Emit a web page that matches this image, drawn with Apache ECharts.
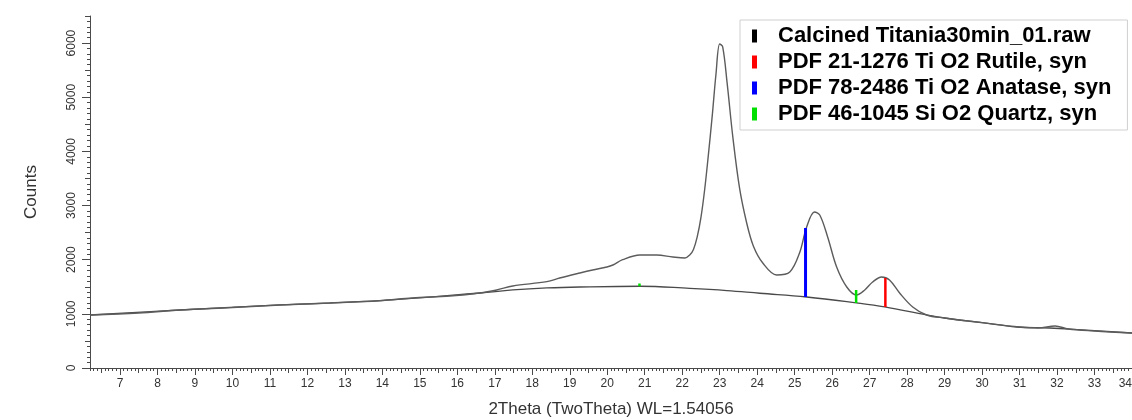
<!DOCTYPE html>
<html>
<head>
<meta charset="utf-8">
<script src="https://cdn.jsdelivr.net/npm/echarts@6/dist/echarts.min.js"></script>
<style>
html,body{margin:0;padding:0;background:#fff;}
#chart{width:1132px;height:420px;}
</style>
</head>
<body>
<div id="chart"></div>
<script>
// ---- data ----
const rawX = [6.2, 7.5, 8.6, 10.0, 11.27, 12.6, 13.93, 14.8, 15.8, 16.6, 17.05, 17.48, 18.39, 18.73, 19.27, 19.61, 19.99, 20.15, 20.41, 20.87, 21.32, 21.75, 22.07, 22.2, 22.3, 22.4, 22.5, 22.6, 22.7, 22.8, 22.9, 23.0, 23.08, 23.2, 23.35, 23.53, 23.72, 23.9, 24.15, 24.52, 24.87, 25.13, 25.32, 25.53, 25.67, 25.88, 26.12, 26.39, 26.65, 26.87, 27.08, 27.32, 27.53, 27.8, 28.15, 28.52, 29.0, 30.0, 31.0, 31.5, 31.95, 32.3, 33.0, 34.0];
const rawY = [979, 1016, 1071, 1117, 1164, 1200, 1243, 1293, 1330, 1385, 1441, 1515, 1594, 1662, 1755, 1810, 1865, 1902, 2000, 2087, 2087, 2050, 2032, 2085, 2190, 2420, 2780, 3300, 3950, 4650, 5420, 5984, 5929, 5250, 4267, 3320, 2678, 2250, 1939, 1718, 1773, 2124, 2604, 2881, 2826, 2420, 1865, 1496, 1348, 1441, 1588, 1681, 1625, 1385, 1127, 979, 923, 837, 757, 739, 776, 720, 683, 646];

const bgX = [6.2, 8.6, 11.27, 13.93, 16.6, 17.48, 18.39, 19.27, 20.87, 22.2, 23.19, 24.07, 25.32, 26.65, 27.4, 28.52, 29.0, 30.0, 30.92, 31.8, 32.68, 34.0];
const bgY = [979, 1071, 1164, 1243, 1385, 1441, 1478, 1496, 1510, 1470, 1430, 1380, 1311, 1201, 1127, 979, 923, 837, 757, 739, 702, 646];

// reference patterns: position, base, top
const rutileX = [27.42];   const rutileBase = [1127]; const rutileTop = [1662];
const anataseX = [25.29];  const anataseBase = [1311]; const anataseTop = [2586];
const quartzX = [20.86, 26.64]; const quartzBase = [1510, 1201]; const quartzTop = [1560, 1441];

const legendNames = ['Calcined Titania30min_01.raw', 'PDF 21-1276 Ti O2 Rutile, syn', 'PDF 78-2486 Ti O2 Anatase, syn', 'PDF 46-1045 Si O2 Quartz, syn'];
const legendColors = ['#000000', '#ff0000', '#0000ff', '#00e000'];

const xTickLabels = [7,8,9,10,11,12,13,14,15,16,17,18,19,20,21,22,23,24,25,26,27,28,29,30,31,32,33,34];
const yTickLabels = [0,1000,2000,3000,4000,5000,6000];

const X_MIN = 6.2, X_MAX = 34.0, Y_MIN = 0, Y_MAX = 6500;

// tick positions for medium / minor ticks
const xHalf = [], xMinor = [];
for (let i = 62; i <= 340; i++) { const v = i / 10; if (i % 10 === 5) xHalf.push(v); else if (i % 10 !== 0) xMinor.push(v); }
const yHalf = [], yMinor = [];
for (let i = 0; i <= 65; i++) { const v = i * 100; if (i % 10 === 5) yHalf.push(v); else if (i % 10 !== 0) yMinor.push(v); }

const zip = (xs, ys) => xs.map((x, i) => [x, ys[i]]);
const FONT = 'Liberation Sans, Arial, sans-serif';
const AX = '#4a4a4a';

function stickSeries(name, color, xs, base, top, width) {
  return xs.map((x, i) => ({
    name: name, type: 'line', xAxisIndex: 0, yAxisIndex: 0,
    data: [[x, base[i]], [x, top[i]]],
    showSymbol: false, symbol: 'none', silent: true,
    itemStyle: { color: color },
    lineStyle: { color: color, width: width },
    z: 5
  }));
}

function xAx(extra) {
  return Object.assign({
    type: 'value', min: X_MIN, max: X_MAX, position: 'bottom', gridIndex: 0,
    splitLine: { show: false }, axisLine: { show: false }, axisLabel: { show: false },
    axisTick: { show: false }
  }, extra);
}
function yAx(extra) {
  return Object.assign({
    type: 'value', min: Y_MIN, max: Y_MAX, position: 'left', gridIndex: 0,
    splitLine: { show: false }, axisLine: { show: false }, axisLabel: { show: false },
    axisTick: { show: false }
  }, extra);
}

const chart = echarts.init(document.getElementById('chart'), null, { renderer: 'canvas' });
chart.setOption({
  animation: false,
  backgroundColor: '#ffffff',
  grid: { left: 90, right: 0, top: 16, bottom: 52, outerBoundsMode: 'none' },
  legend: {
    data: legendNames.map((n, i) => ({ name: n, itemStyle: { color: legendColors[i] } })),
    orient: 'vertical', left: 740, top: 20,
    icon: 'rect', itemWidth: 5, itemHeight: 13, itemGap: 4,
    padding: [5, 16, 5, 12],
    borderColor: '#cfcfcf', borderWidth: 1, backgroundColor: '#fff',
    selectedMode: false,
    textStyle: { fontFamily: FONT, fontWeight: 'bold', fontSize: 22, color: '#000', padding: [0, 0, 0, 16] }
  },
  xAxis: [
    xAx({
      axisLine: { show: true, onZero: false, lineStyle: { color: AX, width: 1 } },
      axisTick: { show: true, customValues: xTickLabels, length: 7, lineStyle: { color: AX } },
      axisLabel: { show: true, customValues: xTickLabels, fontFamily: FONT, fontSize: 12, color: '#333', margin: 10, alignMaxLabel: 'right',
                   formatter: v => String(v) },
      name: '2Theta (TwoTheta) WL=1.54056', nameLocation: 'middle', nameGap: 33,
      nameTextStyle: { fontFamily: FONT, fontSize: 17, color: '#333' }
    }),
    xAx({ axisTick: { show: true, customValues: xHalf, length: 5, lineStyle: { color: AX } } }),
    xAx({ axisTick: { show: true, customValues: xMinor, length: 3, lineStyle: { color: AX } } })
  ],
  yAxis: [
    yAx({
      axisLine: { show: true, onZero: false, lineStyle: { color: AX, width: 1 } },
      axisTick: { show: true, customValues: yTickLabels, length: 8, lineStyle: { color: AX } },
      axisLabel: { show: true, customValues: yTickLabels, rotate: 90, fontFamily: FONT, fontSize: 12, color: '#333', margin: 12,
                   formatter: v => String(v) },
      name: 'Counts', nameLocation: 'middle', nameGap: 50, nameRotate: 90,
      nameTextStyle: { fontFamily: FONT, fontSize: 17, color: '#333' }
    }),
    yAx({ axisTick: { show: true, customValues: yHalf, length: 5, lineStyle: { color: AX } } }),
    yAx({ axisTick: { show: true, customValues: yMinor, length: 3, lineStyle: { color: AX } } })
  ],
  series: [
    {
      name: legendNames[0], type: 'line', data: zip(rawX, rawY),
      smooth: 0.35, showSymbol: false, symbol: 'none', silent: true,
      itemStyle: { color: '#000' }, lineStyle: { color: '#5c5c5c', width: 1.4 }, z: 3
    },
    {
      name: 'background', type: 'line', data: zip(bgX, bgY),
      smooth: 0.4, showSymbol: false, symbol: 'none', silent: true,
      itemStyle: { color: '#444' }, lineStyle: { color: '#4a4a4a', width: 1.3 }, z: 2
    }
  ].concat(
    stickSeries(legendNames[1], '#ff0000', rutileX, rutileBase, rutileTop, 2.5),
    stickSeries(legendNames[2], '#0000ff', anataseX, anataseBase, anataseTop, 3),
    stickSeries(legendNames[3], '#00e000', quartzX, quartzBase, quartzTop, 2.5)
  )
});
</script>
</body>
</html>
